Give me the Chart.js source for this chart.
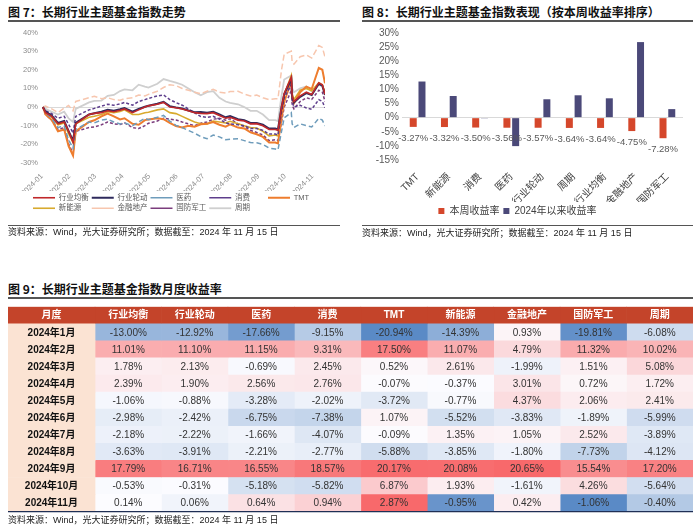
<!DOCTYPE html>
<html><head><meta charset="utf-8">
<script src="https://cdn.jsdelivr.net/npm/chart.js@4.4.1/dist/chart.umd.min.js"></script>
<style>
html,body{margin:0;padding:0;background:#fff;}
body{width:700px;height:528px;position:relative;overflow:hidden;font-family:"Liberation Sans","Noto Sans CJK SC",sans-serif;}
.t{position:absolute;font-size:12px;font-weight:bold;color:#111;white-space:nowrap;line-height:14px;font-family:"Noto Sans CJK SC",sans-serif;}
.r{position:absolute;height:1.5px;background:#555;}
.s{position:absolute;font-size:9px;color:#222;white-space:nowrap;line-height:11px;font-family:"Liberation Sans","Noto Sans CJK SC",sans-serif;}
canvas{position:absolute;}
</style></head><body>
<div class="t" style="left:8px;top:5px">图 7：长期行业主题基金指数走势</div>
<div class="r" style="left:8px;top:20px;width:332px"></div>
<div class="t" style="left:362px;top:5px">图 8：长期行业主题基金指数表现（按本周收益率排序）</div>
<div class="r" style="left:362px;top:20px;width:331px"></div>
<canvas id="c1" width="345" height="198" style="left:0;top:24px"></canvas>
<canvas id="c2" width="350" height="202" style="left:350px;top:24px"></canvas>
<div class="r" style="left:8px;top:224.5px;width:332px;height:1px"></div>
<div class="s" style="left:8px;top:226.5px">资料来源：Wind，光大证券研究所；数据截至：2024 年 11 月 15 日</div>
<div class="r" style="left:362px;top:224.5px;width:331px;height:1px"></div>
<div class="s" style="left:362px;top:228px">资料来源：Wind，光大证券研究所；数据截至：2024 年 11 月 15 日</div>
<div class="t" style="left:8px;top:282px">图 9：长期行业主题基金指数月度收益率</div>
<div class="r" style="left:8px;top:297px;width:685px"></div>
<canvas id="c3" width="700" height="215" style="left:0;top:300px"></canvas>
<div class="s" style="left:8px;top:514.5px">资料来源：Wind，光大证券研究所；数据截至：2024 年 11 月 15 日</div>
<script>
// ---------- Figure 7: line chart data (cumulative return, %) ----------
const lineDates = ['01-02','01-05','01-12','01-19','01-26','01-31','02-05','02-08','02-23','02-29','03-08','03-15','03-22','03-29','04-03','04-12','04-19','04-26','04-30','05-10','05-17','05-24','05-31','06-07','06-14','06-21','06-28','07-05','07-12','07-19','07-26','07-31','08-09','08-16','08-23','08-30','09-06','09-13','09-20','09-23','09-27','09-30','10-08','10-09','10-11','10-18','10-25','10-31','11-08','11-12','11-15'];
const monthTicks = ['01-01','02-01','03-01','04-01','05-01','06-01','07-01','08-01','09-01','10-01','11-01'];
const lineNames = ['行业均衡','行业轮动','医药','消费','TMT','新能源','金融地产','国防军工','周期'];
const lJunheng = [0,-3,-5,-9,-8,-13.0,-19,-9,-4,-3.4,-3,-2,-2.5,-1.7,-1,-3,-1.5,0,0.65,1.5,2.5,0,-0.4,-1,-2,-3,-3.4,-3.5,-3,-4.5,-6,-5.5,-7,-7.5,-9,-8.9,-10,-12,-12,-12.5,0,7.3,16,6,3,6,8,6.7,13,12,6.9];
const lLundong = [0,-2.5,-4.5,-8.5,-7.5,-12.9,-18,-8.5,-4,-3.3,-2.5,-1.5,-2,-1.2,-0.5,-2.5,-1,0.2,0.7,1.8,2.8,0.5,-0.2,-0.8,-1.8,-2.8,-2.6,-3,-2.5,-4,-5.5,-4.8,-6.5,-7,-8.5,-8.5,-9.5,-11.5,-11.5,-12,0,6.8,15,5.5,2.5,5.5,7.5,6.5,12.5,11.5,6.5];
const lYiyao = [0,-3,-6,-11,-10,-17.7,-22,-12,-8,-8.5,-7,-6.5,-8,-9.1,-8.5,-10,-8,-6,-6.8,-5.5,-4.5,-7.5,-9.8,-11,-12.5,-14,-15.9,-17,-15,-16,-17.5,-17.3,-17,-18,-19,-19.2,-20,-22,-22.5,-23,-13,-5.8,-3,-9,-11,-9,-10,-10.7,-6,-7,-10.1];
const lXiaofei = [0,-2,-3.5,-6,-5,-9.2,-14,-5,-1.5,-0.7,0.5,1.5,1,1.7,2.5,1,3,4,4.6,6,6.5,4,2.4,1,-1,-3,-5.1,-5.5,-5,-6.5,-8.5,-9,-9.5,-10,-11.5,-11.5,-12.5,-14.5,-14.5,-15,-3,4.9,12,3,0,1,-0.5,-1.2,4,3,-0.3];
const lTMT = [0,-4,-7,-13,-12,-20.9,-26,-13,-8,-7.1,-5,-3.5,-5,-6.6,-6,-9,-9.5,-7,-6.7,-6,-6.5,-8.5,-10.2,-11,-10,-10.5,-9.2,-9,-8,-9.5,-10.5,-9.3,-11,-11.5,-13.5,-14.6,-16,-19,-19,-19.5,-6,2.6,14,5,2,8,11,9.7,21,20,12.8];
const lXinneng = [0,-3,-5.5,-9.5,-8.5,-14.4,-19,-9,-5.5,-4.9,-4,-2.5,-3,-2.4,-1.5,-4,-4,-3,-2.8,-1.5,-1,-3,-3.5,-5,-6.5,-8,-8.9,-9,-7.5,-8,-8.5,-7.6,-9,-10,-11,-11.2,-13,-15.5,-15,-15.5,-2,6.6,17,7,4,9,10,8.7,13,12,7.7];
const lJinrong = [0,0.5,-1,-3,-0.5,0.9,-2,3,5,5.8,4.5,5,4,3.7,4.5,5,6.5,6,6.8,8.5,10.5,12,11.5,10,9,8,7.2,8.5,9.5,8,7.5,8.3,8.5,7,6,6.4,5,4,4.5,4.5,20,28.3,30,24,23,27,28,26.3,33,32,26.8];
const lGuofang = [0,-4,-7,-12,-11,-19.8,-25,-13,-11,-10.7,-9.5,-8,-9,-9.4,-8.5,-11,-11.5,-10,-8.7,-7.5,-6,-6.5,-6.9,-8,-9,-10,-8.6,-8,-6.5,-6,-7,-6.3,-9,-10.5,-12.5,-13.6,-15,-18,-17.5,-18,-8,-0.1,9,1,-1,3,5,4.1,9,8,3];
const lZhouqi = [0,-1,-2.5,-4,-2.5,-6.1,-8,-1,2.5,3.3,3.5,6,6.5,8.6,9.5,9,12,11,10.5,12.5,15,14,13.1,12,10,8,6.3,8,8.5,5,3,2.2,1.5,0,-2,-2,-4,-7,-7,-7.5,6,14.8,17,10,8,10,11,8.4,12,11,7.9];
const lineYTicks = [-30,-20,-10,0,10,20,30,40];

// ---------- Figure 8: bar chart data ----------
const barCats = ['TMT','新能源','消费','医药','行业轮动','周期','行业均衡','金融地产','国防军工'];
const weekRet = [-3.27,-3.32,-3.50,-3.56,-3.57,-3.64,-3.64,-4.75,-7.28];
const ytdRet = [12.81,7.67,-0.25,-10.08,6.52,7.93,6.86,26.78,3.03];
const barYTicks = [-15,-10,-5,0,5,10,15,20,25,30];

// ---------- Figure 9: monthly return table ----------
const tableMonths = ['2024年1月','2024年2月','2024年3月','2024年4月','2024年5月','2024年6月','2024年7月','2024年8月','2024年9月','2024年10月','2024年11月'];
const tableFunds = ['行业均衡','行业轮动','医药','消费','TMT','新能源','金融地产','国防军工','周期'];
const mJunheng = [-13.00,11.01,1.78,2.39,-1.06,-2.98,-2.18,-3.63,17.79,-0.53,0.14];
const mLundong = [-12.92,11.10,2.13,1.90,-0.88,-2.42,-2.22,-3.91,16.71,-0.31,0.06];
const mYiyao = [-17.66,11.15,-0.69,2.56,-3.28,-6.75,-1.66,-2.21,16.55,-5.18,0.64];
const mXiaofei = [-9.15,9.31,2.45,2.76,-2.02,-7.38,-4.07,-2.77,18.57,-5.82,0.94];
const mTMT = [-20.94,17.50,0.52,-0.07,-3.72,1.07,-0.09,-5.88,20.17,6.87,2.87];
const mXinneng = [-14.39,11.07,2.61,-0.37,-0.77,-5.52,1.35,-3.85,20.08,1.93,-0.95];
const mJinrong = [0.93,4.79,-1.99,3.01,4.37,-3.83,1.05,-1.80,20.65,-1.61,0.42];
const mGuofang = [-19.81,11.32,1.51,0.72,2.06,-1.89,2.52,-7.73,15.54,4.26,-1.06];
const mZhouqi = [-6.08,10.02,5.08,1.72,2.41,-5.99,-3.89,-4.12,17.20,-5.64,-0.40];

Chart.defaults.font.family = '"Liberation Sans","Noto Sans CJK SC",sans-serif';
Chart.defaults.animation = false;

// ---------- Figure 7 ----------
const dayOf = s => Math.round((new Date('2024-' + s + 'T00:00:00Z') - new Date('2024-01-01T00:00:00Z')) / 86400000);
const lineX = lineDates.map(dayOf);
const tickX = monthTicks.map(dayOf);
const lineSeries = [lJunheng,lLundong,lYiyao,lXiaofei,lTMT,lXinneng,lJinrong,lGuofang,lZhouqi];
const lineStyles = [
  {c:'#C0282B',w:1.6,d:[]},
  {c:'#2E2A5C',w:2,d:[]},
  {c:'#6E9CBB',w:1.5,d:[5,3]},
  {c:'#5E3E8C',w:1.5,d:[3,2]},
  {c:'#EE7D2E',w:2,d:[]},
  {c:'#D8AA2E',w:1.6,d:[]},
  {c:'#F7C6AE',w:1.5,d:[6,3]},
  {c:'#7B3C7C',w:1.5,d:[3,2]},
  {c:'#CFCFCF',w:1.8,d:[]}
];
const legendShift = {id:'legendShift', afterLayout(chart){ const lg = chart.legend; const w = lg.right - lg.left; lg.left = 30; lg.right = 30 + w; }};
new Chart(document.getElementById('c1'), {
  type:'line',
  data:{datasets: lineSeries.map((vals,k)=>({
    label: lineNames[k],
    data: vals.map((v,i)=>({x: lineX[i], y: v})),
    borderColor: lineStyles[k].c, backgroundColor: lineStyles[k].c,
    borderWidth: lineStyles[k].w, borderDash: lineStyles[k].d,
    pointRadius:0, fill:false, tension:0
  }))},
  options:{
    responsive:false,
    layout:{padding:{left:4,right:20,top:5,bottom:0}},
    scales:{
      x:{type:'linear', min:0, max:lineX[lineX.length-1],
         afterBuildTicks: s => { s.ticks = tickX.map(v=>({value:v})); },
         afterFit: s => { s.height = 28; },
         ticks:{autoSkip:false, maxRotation:45, minRotation:45, padding:1, font:{size:7.5}, color:'#8c8c8c',
           callback: v => '2024-' + monthTicks[tickX.indexOf(v)].slice(0,2)},
         grid:{display:false}, border:{display:false}},
      y:{min:-30, max:40,
         afterBuildTicks: s => { s.ticks = lineYTicks.map(v=>({value:v})); },
         afterFit: s => { s.width = 38; },
         ticks:{font:{size:7.5}, color:'#8c8c8c', padding:4, callback: v => v + '%'},
         grid:{color: c => c.tick && c.tick.value === 0 ? '#d9d9d9' : 'rgba(0,0,0,0)', drawTicks:false, lineWidth:1},
         border:{display:false}}
    },
    plugins:{
      legend:{position:'bottom', align:'start',
        labels:{usePointStyle:true, pointStyle:'line', pointStyleWidth:22, boxHeight:7, padding:3,
          font:{size:7.5}, color:'#595959',
          generateLabels: chart => {
            const items = Chart.defaults.plugins.legend.labels.generateLabels(chart);
            items.forEach(it => { const n = it.text === 'TMT' ? 2 : [...it.text].length; it.text = it.text + '\u3000'.repeat(Math.max(0, 4 - n)); });
            return items;
          }}},
      tooltip:{enabled:false}
    }
  },
  plugins:[legendShift]
});

// ---------- Figure 8 ----------
const barLabels = {id:'barLabels', afterDatasetsDraw(chart){
  const ctx = chart.ctx; const meta = chart.getDatasetMeta(0);
  ctx.save(); ctx.font = '9.5px "Liberation Sans"'; ctx.fillStyle = '#595959'; ctx.textAlign = 'center'; ctx.textBaseline = 'middle';
  meta.data.forEach((el,i) => { ctx.fillText(weekRet[i].toFixed(2) + '%', el.x, el.y + 11); });
  ctx.restore();
}};
new Chart(document.getElementById('c2'), {
  type:'bar',
  data:{labels: barCats, datasets:[
    {label:'本周收益率', data: weekRet, backgroundColor:'#D5472B', barPercentage:0.8, categoryPercentage:0.56},
    {label:'2024年以来收益率', data: ytdRet, backgroundColor:'#4B4979', barPercentage:0.8, categoryPercentage:0.56}
  ]},
  options:{
    responsive:false,
    layout:{padding:{left:2,right:17,top:4,bottom:0}},
    scales:{
      x:{afterFit: s => { s.height = 42; },
         ticks:{autoSkip:false, maxRotation:45, minRotation:45, font:{size:10}, color:'#404040', padding:3},
         grid:{display:false}, border:{display:false}},
      y:{min:-15, max:30,
         afterBuildTicks: s => { s.ticks = barYTicks.map(v=>({value:v})); },
         afterFit: s => { s.width = 50; },
         ticks:{autoSkip:false, font:{size:10}, color:'#595959', padding:3, callback: v => v + '%'},
         grid:{color: c => c.tick && c.tick.value === 0 ? '#d9d9d9' : 'rgba(0,0,0,0)', drawTicks:false},
         border:{display:false}}
    },
    plugins:{
      legend:{position:'bottom', labels:{boxWidth:6, boxHeight:6, padding:4, font:{size:10}, color:'#404040'}},
      tooltip:{enabled:false}
    }
  },
  plugins:[barLabels]
});

// ---------- Figure 9 ----------
const fundCols = [mJunheng,mLundong,mYiyao,mXiaofei,mTMT,mXinneng,mJinrong,mGuofang,mZhouqi];
const rowLabels = ['月度'].concat(tableMonths);
const headerColor = '#C4442A', monthBg = '#FBE3D3';
const firstColW = 1.31;
const allMain = fundCols.flatMap(c => c.slice(0,10)).sort((a,b)=>a-b);
const lastRow = fundCols.map(c => c[10]).sort((a,b)=>a-b);
const median = a => a.length % 2 ? a[(a.length-1)/2] : (a[a.length/2-1] + a[a.length/2]) / 2;
const scaleMain = {lo: allMain[0], mid: median(allMain), hi: allMain[allMain.length-1]};
const scaleLast = {lo: lastRow[0], mid: median(lastRow), hi: lastRow[lastRow.length-1]};
function heat(v, s){
  const blue=[90,138,198], white=[252,252,255], red=[248,105,107];
  let t, b;
  if (v >= s.mid){ t = (v - s.mid) / (s.hi - s.mid); b = red; } else { t = (s.mid - v) / (s.mid - s.lo); b = blue; }
  t = Math.max(0, Math.min(1, t));
  return 'rgb(' + white.map((c,k)=>Math.round(c + (b[k]-c)*t)).join(',') + ')';
}
const tableText = {id:'tableText', afterDatasetsDraw(chart){
  const ctx = chart.ctx; ctx.save(); ctx.textAlign = 'center'; ctx.textBaseline = 'middle';
  chart.data.datasets.forEach((ds, d) => {
    chart.getDatasetMeta(d).data.forEach((el, i) => {
      const cx = (el.x + el.base) / 2, cy = el.y + 0.5;
      let txt;
      if (i === 0){ ctx.font = 'bold 10px "Liberation Sans","Noto Sans CJK SC"'; ctx.fillStyle = '#ffffff'; txt = d === 0 ? '月度' : tableFunds[d-1]; }
      else if (d === 0){ ctx.font = 'bold 10px "Liberation Sans","Noto Sans CJK SC"'; ctx.fillStyle = '#111'; txt = tableMonths[i-1]; }
      else { ctx.font = '10px "Liberation Sans Narrow","Liberation Sans"'; ctx.fillStyle = '#333'; txt = fundCols[d-1][i-1].toFixed(2) + '%'; }
      ctx.fillText(txt, cx, cy);
    });
  });
  const a = chart.chartArea;
  ctx.strokeStyle = '#1F2F55'; ctx.lineWidth = 1.2; ctx.beginPath(); ctx.moveTo(a.left, a.bottom); ctx.lineTo(a.right, a.bottom); ctx.stroke();
  ctx.restore();
}};
const tableDatasets = [{label:'月度', data: rowLabels.map(()=>firstColW), backgroundColor: rowLabels.map((_,i)=> i===0 ? headerColor : monthBg)}]
  .concat(fundCols.map((col, j) => ({label: tableFunds[j], data: rowLabels.map(()=>1),
    backgroundColor: rowLabels.map((_,i)=> i===0 ? headerColor : heat(col[i-1], i === 11 ? scaleLast : scaleMain))})));
new Chart(document.getElementById('c3'), {
  type:'bar',
  data:{labels: rowLabels, datasets: tableDatasets.map(ds => Object.assign(ds, {barPercentage:1, categoryPercentage:1, borderWidth:0}))},
  options:{
    indexAxis:'y', responsive:false,
    layout:{padding:{left:8,right:7,top:6.7,bottom:3.3}},
    scales:{
      x:{display:false, stacked:true, min:0, max: firstColW + fundCols.length},
      y:{display:false, stacked:true}
    },
    plugins:{legend:{display:false}, tooltip:{enabled:false}}
  },
  plugins:[tableText]
});
</script>
</body></html>
